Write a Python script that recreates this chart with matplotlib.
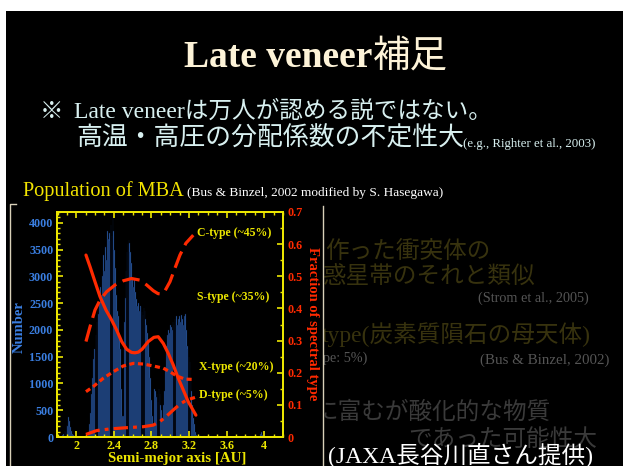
import numpy as np
import matplotlib
matplotlib.use('Agg')
import matplotlib.pyplot as plt
from matplotlib.lines import Line2D
from matplotlib.patches import Rectangle
from matplotlib.ticker import MultipleLocator

plt.rcParams['font.family'] = ['Liberation Serif', 'Noto Sans CJK JP']

W, H = 623, 466

# ── Main-belt asteroid counts, 0.01 AU bins ───────────────
bin_start = 1.85
bin_width = 0.01
counts = [
    30, 60, 40, 120, 100, 230, 200, 370, 300, 180,          # 1.85-1.94
    120, 60, 40, 20, 10, 10, 5, 5, 5, 5,                    # 1.95-2.04
    5, 5, 5, 5, 5, 5, 5, 5, 30, 250,                        # 2.05-2.14
    450, 800, 1100, 1450, 1650, 1620, 1900, 2150, 2450, 2300,   # 2.15-2.24
    2500, 2800, 2650, 3000, 3400, 3100, 3550, 3300, 3850, 3700,  # 2.25-2.34
    3800, 3650, 3950, 3750, 4100, 3850, 3500, 3150, 2650, 2350,  # 2.35-2.44
    2250, 1900, 1650, 900, 400, 400, 2150, 2600, 3100, 3450,     # 2.45-2.54
    3600, 3680, 3620, 3450, 3250, 2950, 2800, 2950, 2700, 2580,  # 2.55-2.64
    2450, 2500, 2350, 2450, 2420, 2330, 2280, 2400, 2350, 2200,  # 2.65-2.74
    2100, 1950, 1800, 1500, 1100, 700, 400, 250, 900, 850,       # 2.75-2.84
    750, 800, 650, 900, 800, 600, 500, 300, 600, 850,            # 2.85-2.94
    1300, 1700, 1900, 2000, 1950, 2100, 2050, 2000, 2150, 2100,  # 2.95-3.04
    2200, 2150, 2250, 2100, 2200, 2250, 2150, 2280, 2200, 2100,  # 3.05-3.14
    2250, 2300, 2000, 1700, 1650, 1500, 1400, 1100, 850, 600,    # 3.15-3.24
    350, 250, 100, 40, 10,                                       # 3.25-3.29
]
outer_a = [3.32, 3.36, 3.44, 3.96, 3.97, 3.98]
outer_n = [20, 30, 15, 60, 90, 40]

# ── Fraction of each spectral type vs semi-major axis ──────
s_a = [2.103, 2.146, 2.199, 2.252, 2.316, 2.376, 2.429, 2.483, 2.536, 2.589, 2.625,
       2.660, 2.700, 2.766, 2.826, 2.872, 2.926, 2.979, 3.032, 3.085, 3.139, 3.191, 3.273]
s_f = [0.566, 0.530, 0.483, 0.437, 0.395, 0.364, 0.333, 0.297, 0.273, 0.263, 0.262,
       0.264, 0.273, 0.297, 0.310, 0.312, 0.291, 0.260, 0.224, 0.183, 0.146, 0.110, 0.068]

c_a = [2.103, 2.146, 2.199, 2.252, 2.323, 2.412, 2.500, 2.589, 2.678, 2.749, 2.820,
       2.870, 2.900, 2.944, 2.997, 3.050, 3.103, 3.167, 3.245]
c_f = [0.297, 0.343, 0.395, 0.426, 0.452, 0.473, 0.486, 0.493, 0.488, 0.473, 0.455,
       0.446, 0.445, 0.455, 0.483, 0.525, 0.566, 0.603, 0.628]

x_a = [2.103, 2.181, 2.288, 2.394, 2.500, 2.607, 2.713, 2.819, 2.926, 2.997, 3.068, 3.156, 3.263]
x_f = [0.141, 0.157, 0.183, 0.203, 0.221, 0.229, 0.227, 0.221, 0.214, 0.203, 0.190, 0.180, 0.179]

d_a = [2.103, 2.216, 2.358, 2.535, 2.713, 2.819, 2.890, 2.961, 3.032, 3.103, 3.174, 3.263]
d_f = [0.008, 0.020, 0.025, 0.029, 0.032, 0.037, 0.048, 0.065, 0.084, 0.102, 0.115, 0.123]

type_labels = ['C-type (~45%)', 'S-type (~35%)', 'X-type (~20%)', 'D-type (~5%)']
label_a = [3.281, 3.281, 3.309, 3.309]
label_f = [0.634, 0.437, 0.217, 0.131]

frac_ticks = [0, 0.1, 0.2, 0.3, 0.4, 0.5, 0.6, 0.7]
frac_ticklabels = ['0', '0.1', '0.2', '0.3', '0.4', '0.5', '0.6', '0.7']

YELLOW = '#ece600'
BLUE = '#3a7ee0'
RED = '#ff2a00'


def px(x, y):
    return x / W, 1 - y / H


fig = plt.figure(figsize=(W / 100, H / 100), dpi=100, facecolor='black')

# white border of the slide
fig.patches.append(Rectangle((0, 1 - 11 / H), 1, 11 / H, transform=fig.transFigure,
                             facecolor='white', edgecolor='none', zorder=-5))
fig.patches.append(Rectangle((0, 0), 6 / W, 1, transform=fig.transFigure,
                             facecolor='white', edgecolor='none', zorder=-5))

# ── slide text ─────────────────────────────────────────────
fig.text(*px(372, 67), 'Late veneer', ha='right', va='baseline', fontsize=27,
         fontweight='bold', family='Liberation Serif', color='#fdf3d8')
fig.text(*px(373, 67), '補足', ha='left', va='baseline', fontsize=27,
         family='Noto Sans CJK JP', color='#fdf3d8')

LINE_COL = '#d8f0f0'
fig.text(*px(40, 118), '※', ha='left', va='baseline', fontsize=17,
         family='Noto Sans CJK JP', color=LINE_COL)
fig.text(*px(74, 118), 'Late veneerは万人が認める説ではない。', ha='left', va='baseline',
         fontsize=17, color=LINE_COL)
fig.text(*px(76, 146), '高温・高圧の分配係数の不定性大', ha='left', va='baseline',
         fontsize=18.6, family='Noto Sans CJK JP', color=LINE_COL)
fig.text(*px(463, 147), '(e.g., Righter et al., 2003)', ha='left', va='baseline',
         fontsize=9.3, color=LINE_COL)

fig.text(*px(23, 196), 'Population of MBA', ha='left', va='baseline', fontsize=14.6,
         color='#f2e400')
fig.text(*px(187, 196), '(Bus & Binzel, 2002 modified by S. Hasegawa)', ha='left',
         va='baseline', fontsize=9.6, color='white')

# dimmed text behind the figure panel
OLIVE = '#37320e'
DGRAY = '#3a3a3a'
CGRAY = '#555555'
faded = [
    ('作った衝突体の', 325, 251, OLIVE, 17, 'Noto Sans CJK JP'),
    ('惑星帯のそれと類似', 323, 277, OLIVE, 17, 'Noto Sans CJK JP'),
    ('(Strom et al., 2005)', 478, 298, CGRAY, 10.3, 'Liberation Serif'),
    ('type(炭素質隕石の母天体)', 322, 335, OLIVE, 17, None),
    ('pe: 5%)', 323, 358, CGRAY, 10.3, 'Liberation Serif'),
    ('(Bus & Binzel, 2002)', 480, 360, CGRAY, 10.8, 'Liberation Serif'),
    ('に富むが酸化的な物質', 314, 412, DGRAY, 17, 'Noto Sans CJK JP'),
    ('であった可能性大', 408, 440, DGRAY, 17, 'Noto Sans CJK JP'),
]
for txt, x, y, col, fs, fam in faded:
    kw = {} if fam is None else {'family': fam}
    fig.text(*px(x, y), txt, ha='left', va='center', fontsize=fs, color=col, zorder=-3, **kw)

fig.patches.append(Rectangle(px(6, 466), 316.5 / W, 262 / H, transform=fig.transFigure,
                             facecolor='black', edgecolor='none', zorder=-2))

fig.text(*px(328, 455), '(JAXA長谷川直さん提供)', ha='left', va='center', fontsize=17,
         color='white')

# frame around the figure panel
FRAME = '#d8d0b8'
fig.lines.append(Line2D([10 / W, 10 / W, 16 / W], [0, 1 - 204 / H, 1 - 204 / H],
                        transform=fig.transFigure, color=FRAME, lw=1.0))
fig.lines.append(Line2D([322.5 / W, 322.5 / W], [0, 1 - 206 / H],
                        transform=fig.transFigure, color=FRAME, lw=1.0))

# ── histogram + fraction curves ────────────────────────────
ax = fig.add_axes([57.5 / W, 29 / H, 225.5 / W, 225 / H])
ax.set_facecolor('black')
a_bins = bin_start + bin_width * np.arange(len(counts))
ax.bar(a_bins, counts, width=bin_width * 0.8, color='#3570c8', edgecolor='#081530', linewidth=0.3)
ax.bar(outer_a, outer_n, width=bin_width * 0.8, color='#3570c8', edgecolor='#081530', linewidth=0.3)
ax.set_xlim(1.8, 4.2)
ax.set_ylim(0, 4200)

ax2 = ax.twinx()
ax2.set_ylim(0, 0.7)
ax2.plot(s_a, s_f, color=RED, lw=2.3, solid_capstyle='round')
ax2.plot(c_a, c_f, color=RED, lw=2.3, dashes=(5.5, 2.2))
ax2.plot(x_a, x_f, color=RED, lw=2.3, dashes=(1.6, 1.1))
ax2.plot(d_a, d_f, color=RED, lw=2.3, dashes=(4.5, 1.6, 1.2, 1.6))
for lab, a, f in zip(type_labels, label_a, label_f):
    ax2.text(a, f, lab, ha='left', va='center', fontsize=8.5, fontweight='bold',
             family='Liberation Serif', color=YELLOW)

for a in (ax, ax2):
    for sp in a.spines.values():
        sp.set_color(YELLOW)
        sp.set_linewidth(1.4)

ax.xaxis.set_minor_locator(MultipleLocator(0.1))
ax.yaxis.set_major_locator(MultipleLocator(500))
ax.yaxis.set_minor_locator(MultipleLocator(100))
ax2.yaxis.set_minor_locator(MultipleLocator(0.05))
ax.set_xticks([2, 2.4, 2.8, 3.2, 3.6, 4])
ax.set_xticklabels(['2', '2.4', '2.8', '3.2', '3.6', '4'])
ax2.set_yticks(frac_ticks)
ax2.set_yticklabels(frac_ticklabels)

ax.tick_params(axis='x', which='both', direction='in', top=True, colors=YELLOW,
               labelcolor=YELLOW, pad=2)
ax.tick_params(axis='y', which='both', direction='in', right=False, colors=YELLOW,
               labelcolor=BLUE, pad=3)
ax2.tick_params(axis='y', which='both', direction='in', colors=YELLOW, labelcolor=RED, pad=3)
for a in (ax, ax2):
    a.tick_params(which='major', length=4, width=1.2)
    a.tick_params(which='minor', length=2, width=1.0)
for lab in ax.get_xticklabels() + ax.get_yticklabels() + ax2.get_yticklabels():
    lab.set_fontweight('bold')
    lab.set_fontsize(8.7)
    lab.set_family('Liberation Serif')

ax.set_xlabel('Semi-mejor axis [AU]', color=YELLOW, fontsize=10.7, fontweight='bold',
              family='Liberation Serif')
ax.xaxis.set_label_coords(0.53, -0.068)
ax.set_ylabel('Number', color=BLUE, fontsize=10.5, fontweight='bold', family='Liberation Serif',
              va='center')
ax.yaxis.set_label_coords(-0.171, 0.487)
ax2.set_ylabel('Fraction of spectral type', color=RED, fontsize=10.5, fontweight='bold',
               family='Liberation Serif', rotation=-90, va='center')
ax2.yaxis.set_label_coords(1.129, 0.502)

fig.savefig('out.png', dpi=100, facecolor='black')
